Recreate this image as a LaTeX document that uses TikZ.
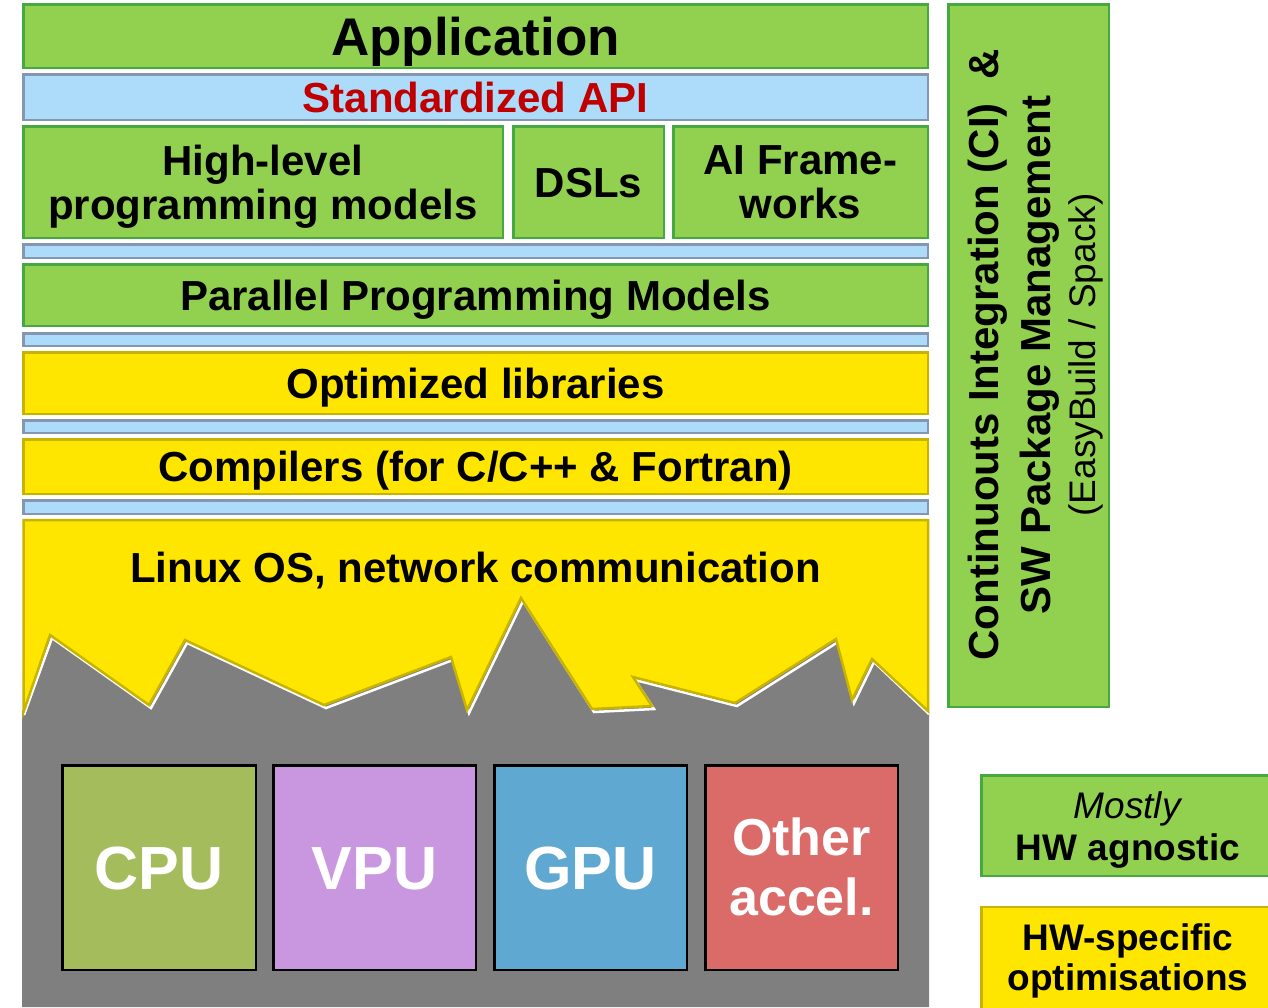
\documentclass[tikz,border=0pt]{standalone}
\usepackage{fontspec}
\setmainfont{Liberation Sans}
\definecolor{gfill}{HTML}{92D050}
\definecolor{gline}{HTML}{45A840}
\definecolor{bfill}{HTML}{ADDCFB}
\definecolor{bline}{HTML}{8496B0}
\definecolor{yfill}{HTML}{FFE600}
\definecolor{yline}{HTML}{C8B400}
\definecolor{grayc}{HTML}{7F7F7F}
\definecolor{apired}{HTML}{C00000}
\definecolor{cpuc}{HTML}{A4BC5B}
\definecolor{vpuc}{HTML}{C997E0}
\definecolor{gpuc}{HTML}{5FA8D1}
\definecolor{othc}{HTML}{DA6B69}
\begin{document}
\begin{tikzpicture}[x=1pt,y=-1pt,
  box/.style={draw, line width=2.5pt, inner sep=0pt, anchor=center},
  greenbox/.style={box, fill=gfill, draw=gline},
  bluebox/.style={box, fill=bfill, draw=bline},
  yelbox/.style={box, fill=yfill, draw=yline},
  lab42/.style={font=\bfseries\fontsize{42}{44}\selectfont, text height=30pt, text depth=0pt},
  mline/.style={font=\bfseries\fontsize{42}{44}\selectfont, align=center, inner sep=0pt, anchor=north},
  hwbox/.style={box, fill=#1, draw=black, text=white, font=\bfseries\fontsize{61}{61}\selectfont, text height=44pt, text depth=0pt, minimum height=204.5},
  citext/.style={rotate=90, anchor=base, inner sep=0pt},
  legtext/.style={align=center, inner sep=0pt, anchor=north}
]
\useasboundingbox (0,0) rectangle (1268,1007);

% top layers
\node[greenbox, minimum width=904.5, minimum height=63.5, font=\bfseries\fontsize{53}{53}\selectfont, text height=38pt, text depth=0pt] (app) at (475.5,36) {Application};
\node[bluebox, minimum width=904.5, minimum height=45.5, lab42, text=apired] (api) at (475.5,97) {Standardized API};
\node[greenbox, minimum width=479.5, minimum height=111.5] (hl) at (263,182) {};
\node[mline] (hltext) at (263,145) {High-level\\programming models};
\node[greenbox, minimum width=150.5, minimum height=111.5, lab42] (dsl) at (588.5,182) {DSLs};
\node[greenbox, minimum width=254.5, minimum height=111.5] (ai) at (800.5,182) {};
\node[mline] (aitext) at (800.5,145) {AI Frame-\\works};
\node[bluebox, minimum width=904.5, minimum height=13.5] (s1) at (475.5,251) {};
\node[greenbox, minimum width=904.5, minimum height=61.5, lab42] (ppm) at (475.5,295) {Parallel Programming Models};
\node[bluebox, minimum width=904.5, minimum height=12.5] (s2) at (475.5,339.5) {};
\node[yelbox, minimum width=904.5, minimum height=61.5, lab42] (opt) at (475.5,383) {Optimized libraries};
\node[bluebox, minimum width=904.5, minimum height=12.5] (s3) at (475.5,426.5) {};
\node[yelbox, minimum width=904.5, minimum height=54.5, lab42] (comp) at (475.5,466.5) {Compilers (for C/C++ \& Fortran)};
\node[bluebox, minimum width=904.5, minimum height=13.5] (s4) at (475.5,507) {};

% OS / hardware scene
\fill[grayc] (22,712) -- (50,635) -- (149,705) -- (185,640) -- (324,705) -- (451,657) -- (467,710) -- (521,598) -- (592,709) -- (652,706) -- (633,677) -- (735,703) -- (836,639) -- (852,700) -- (872,659) -- (929,711) -- (929,1007) -- (22,1007) -- cycle;
\draw[white, line width=2.5pt, shift={(2,3)}] (22,712) -- (50,635) -- (149,705) -- (185,640) -- (324,705) -- (451,657) -- (467,710) -- (521,598) -- (592,709) -- (652,706) -- (633,677) -- (735,703) -- (836,639) -- (852,700) -- (872,659) -- (927,711);
\filldraw[fill=yfill, draw=yline, line width=2.5pt, line join=miter] (23.5,520) -- (928,520) -- (928,711) -- (872,659) -- (852,700) -- (836,639) -- (735,703) -- (633,677) -- (652,706) -- (592,709) -- (521,598) -- (467,710) -- (451,657) -- (324,705) -- (185,640) -- (149,705) -- (50,635) -- (23.5,712) -- cycle;
\node[font=\bfseries\fontsize{42}{44}\selectfont, anchor=base, inner sep=0pt] (linux) at (475.5,582) {Linux OS, network communication};

\node[hwbox=cpuc, minimum width=193.5] (cpu) at (159,867.5) {CPU};
\node[hwbox=vpuc, minimum width=202.5] (vpu) at (374.5,867.5) {VPU};
\node[hwbox=gpuc, minimum width=192.5] (gpu) at (590.5,867.5) {GPU};
\node[hwbox=othc, minimum width=192.5] (oth) at (801.5,867.5) {};
\node[legtext, text=white, font=\bfseries\fontsize{52}{60}\selectfont] (othtext) at (801.5,818) {Other\\accel.};

% CI box
\node[greenbox, minimum width=160.5, minimum height=702.5] (ci) at (1028.5,355.5) {};
\node[citext, font=\bfseries\fontsize{42}{42}\selectfont] (ci1) at (998,355) {Continuouts Integration (CI)\ \ \&};
\node[citext, font=\bfseries\fontsize{42}{42}\selectfont] (ci2) at (1050,355) {SW Package Management};
\node[citext, font=\fontsize{37}{37}\selectfont] (ci3) at (1095,355) {(EasyBuild / Spack)};

% legend
\node[greenbox, minimum width=293.5, minimum height=100.5] (lg1) at (1128,825.5) {};
\node[legtext, font=\fontsize{37}{42}\selectfont] (lg1t) at (1128,791) {\textit{Mostly}\\\textbf{HW agnostic}};
\node[yelbox, minimum width=293.5, minimum height=104] (lg2) at (1128,959) {};
\node[legtext, font=\bfseries\fontsize{37}{40}\selectfont] (lg2t) at (1128,923) {HW-specific\\optimisations};
\end{tikzpicture}
\end{document}
